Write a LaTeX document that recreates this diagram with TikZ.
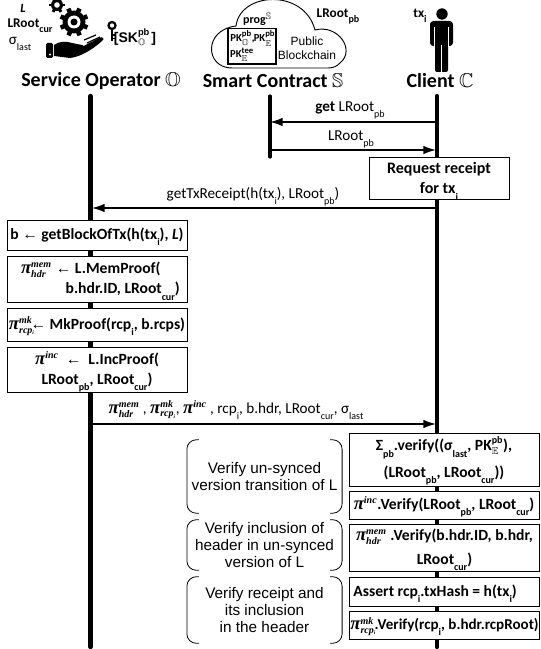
\documentclass[tikz,border=0pt]{standalone}
\usepackage{amsmath,amssymb}
\usepackage{fontspec}
\setmainfont{Carlito}
\newfontfamily\armfont{Liberation Sans}
\newfontfamily\prffont{Liberation Serif}
\usetikzlibrary{arrows.meta}
\newcommand{\low}[1]{\smash{\raisebox{-0.85ex}{\fontsize{7.5}{7.5}\selectfont #1}}}
\newcommand{\prftiny}[1]{\mbox{\prffont\bfseries\itshape\fontsize{7.5}{7.5}\selectfont #1}}
\newcommand{\prf}[2]{\smash{$\mbox{\prffont\bfseries\itshape\fontsize{14}{14}\selectfont π}^{\prftiny{#1}}_{\prftiny{#2}}$}}
\newcommand{\rcpi}{rcp\raisebox{-0.3ex}{\fontsize{4}{4}\selectfont i}}
\newcommand{\bbb}[1]{$\mathbb{#1}$}
\newcommand{\larr}{{\armfont\bfseries ←}}
\newcommand{\PK}[2]{PK$^{\text{\fontsize{6.5}{6.5}\selectfont\bfseries #1}}_{\text{\fontsize{6.5}{6.5}\selectfont$\mathbb{#2}$}}$}
\tikzset{
	actor/.style={font=\fontsize{15}{17}\selectfont\bfseries, inner sep=0pt},
	note/.style={font=\fontsize{10}{12}\selectfont\bfseries, inner sep=0pt, align=center},
	msg/.style={font=\fontsize{11.4}{13}\selectfont, inner sep=0pt},
	lifeline/.style={line width=3.2pt, line cap=round},
	msgline/.style={-{Latex[length=9.5pt,width=6.5pt]}, line width=1.2pt},
	opbox/.style={draw, fill=white, line width=0.7pt, align=center, inner sep=0pt, minimum width=135pt, font=\fontsize{11.7}{15}\selectfont\bfseries},
	verbox/.style={opbox, minimum width=142.5pt},
	verlabel/.style={inner sep=0pt, minimum width=116pt, align=center, font=\fontsize{11.5}{12.8}\selectfont\armfont},
	bracketline/.style={line width=0.6pt, rounded corners=7pt},
	pknote/.style={note, font=\fontsize{8}{9}\selectfont\bfseries}
}
\begin{document}
\begin{tikzpicture}[x=0.75pt,y=-0.75pt]
	\useasboundingbox (0,0) rectangle (540,649);

	% Lifelines
	\coordinate (optop) at (90.5,96);
	\coordinate (opbot) at (90.5,647);
	\coordinate (sctop) at (270,96);
	\coordinate (scbot) at (270,157);
	\coordinate (cltop) at (437,96);
	\coordinate (clbot) at (437,647);
	\draw[lifeline] (optop) -- (opbot);
	\draw[lifeline, line width=2.4pt] (sctop) -- (scbot);
	\draw[lifeline] (cltop) -- (clbot);

	% Actors
	\node[actor] (opname) at (101,81) {Service Operator \bbb{O}};
	\node[actor] (scname) at (273,81) {Smart Contract \bbb{S}};
	\node[actor] (clname) at (440,81) {Client \bbb{C}};

	% Gears
	\foreach \a in {0,45,...,315}
	\draw[line width=3.4pt] (74,22) -- ++(\a+22:14.5);
	\fill (74,22) circle (11.5);
	\fill[white] (74,22) circle (6.5);
	\fill (74,22) circle (3.5);
	\foreach \a in {0,60,...,300}
	\draw[line width=2.2pt] (57,5) -- ++(\a:8);
	\fill (57,5) circle (6);
	\fill[white] (57,5) circle (2.8);

	% Hand
	\fill[rounded corners=1pt] (46,43) rectangle (53,58);
	\fill[white] (50,54.5) circle (1.2);
	\fill (54,45) .. controls (60,41) and (66,41) .. (72,43) -- (82,45)
		.. controls (85,46) and (85,49) .. (82,50) -- (76,50)
		-- (99,38) .. controls (103,36) and (105,39) .. (102,41)
		.. controls (92,50) and (80,57) .. (70,58) -- (54,56) -- cycle;
	\draw[line width=0.9pt] (84,40) -- (96,35);
	\draw[line width=0.9pt] (87,43) -- (100,37);

	% Key
	\draw[line width=1.7pt] (112,25.5) circle (3.5);
	\draw[line width=1.8pt] (112,29) -- (112,41);
	\draw[line width=1.2pt] (112,35) -- (115.5,35);
	\draw[line width=1.2pt] (112,38.5) -- (115.5,38.5);

	% Operator state
	\node[note, font=\fontsize{9.5}{11}\selectfont\bfseries\itshape] (ledger) at (23,8) {L};
	\node[note] (lrootcur) at (30,23) {LRoot\low{cur}};
	\node[msg] (siglast) at (20,41) {σ\low{last}};
	\node[note, font=\fontsize{10.5}{12}\selectfont\bfseries\armfont] (skpb) at (135,38) {[SK$^{\text{\fontsize{7}{7}\selectfont\bfseries pb}}_{\text{\fontsize{7}{7}\selectfont$\mathbb{O}$}}$\kern1pt]};

	% Cloud
	\draw[line width=0.7pt] (232,68)
		.. controls (205,68) and (203,30) .. (236,26)
		.. controls (240,-8) and (304,-12) .. (315,30)
		.. controls (338,24) and (356,50) .. (340,63)
		.. controls (337,66) and (334,68) .. (328,68) -- cycle;
	\node[draw, line width=0.8pt, minimum width=36pt, minimum height=26.3pt, inner sep=0pt] (pkbox) at (252,46.5) {};
	\node[pknote] (pkop) at (242.5,38.5) {\PK{pb}{O},};
	\node[pknote] (pken) at (264.5,38.5) {\PK{pb}{E}};
	\node[pknote] (pktee) at (242,55) {\PK{tee}{E}};
	\node[pknote, font=\fontsize{9}{9}\selectfont\bfseries] (prog) at (257,19.5) {prog{\fontsize{7}{7}\selectfont\raisebox{0.9ex}{$\mathbb{S}$}}};
	\node[inner sep=0pt, align=center, font=\fontsize{9}{10.5}\selectfont\armfont] (pubchain) at (307,48.5) {Public\\Blockchain};
	\node[note] (lrootpb) at (338,13) {LRoot\low{pb}};

	% Client
	\node[note] (txi) at (420,13) {tx\low{i}};
	\fill (442,14) circle (5.7);
	\fill[rounded corners=2.5pt] (430,21) rectangle (453,46);
	\fill[rounded corners=1.5pt] (435,40) rectangle (448,72);
	\draw[white, line width=0.7pt] (434.5,27) -- (434.5,47);
	\draw[white, line width=0.7pt] (448.5,27) -- (448.5,47);
	\draw[white, line width=0.7pt] (441.5,45) -- (441.5,72);

	% Sync with the contract
	\coordinate (getR) at (437,122);
	\coordinate (getL) at (270,122);
	\coordinate (rootL) at (270,150);
	\coordinate (rootR) at (436,150);
	\draw[msgline] (getR) -- (getL);
	\draw[msgline] (rootL) -- (rootR);
	\node[msg] (getlabel) at (350,108) {\textbf{get} LRoot\low{pb}};
	\node[msg] (rootlabel) at (351,136) {LRoot\low{pb}};

	% Request
	\node[opbox, minimum width=105pt, minimum height=31.5pt, font=\fontsize{12}{15}\selectfont\bfseries] (request) at (439,178) {Request receipt\\for tx\low{i}};
	\coordinate (reqR) at (437,208);
	\coordinate (reqL) at (92,208);
	\draw[msgline] (reqR) -- (reqL);
	\node[msg] (reqlabel) at (253,194) {getTxReceipt(h(tx\low{i}), LRoot\low{pb})};

	% Operator steps
	\node[opbox, minimum height=22.5pt] (blockbox) at (97,235) {b \larr{} getBlockOfTx(h(tx\low{i}), \textit{L})};
	\node[opbox, minimum height=34.5pt] (membox) at (97,279) {\hspace*{-0.8em}\prf{mem}{hdr}\kern3pt\larr{} L.MemProof(\\\hspace*{3.3em}b.hdr.ID, LRoot\low{cur})};
	\node[opbox, minimum height=24.7pt] (mkbox) at (97,324.5) {\prf{mk}{\rcpi}\kern-3pt\larr{} MkProof(rcp\low{i}, b.rcps)};
	\node[opbox, minimum height=33.7pt] (incbox) at (97,369.5) {\prf{inc}{}\ \ \larr{}\ \ L.IncProof(\\LRoot\low{pb}, LRoot\low{cur})};

	% Proof message
	\coordinate (prfL) at (92,424);
	\coordinate (prfR) at (436,424);
	\draw[msgline] (prfL) -- (prfR);
	\node[msg] (prflabel) at (236,409) {\prf{mem}{hdr} , \prf{mk}{\rcpi}, \prf{inc}{} , rcp\low{i}, b.hdr, LRoot\low{cur}, σ\low{last}};

	% Client checks
	\node[verbox, minimum height=39.7pt] (sigbox) at (444,459.5) {Σ\low{pb}.verify((σ\low{last}, \smash{PK$^{\text{\fontsize{7.5}{7.5}\selectfont pb}}_{\text{\fontsize{7.5}{7.5}\selectfont$\mathbb{E}$}}$}),\\[5pt](LRoot\low{pb}, LRoot\low{cur}))};
	\node[verbox, minimum height=21pt] (incver) at (444,505) {\prf{inc}{}.Verify(LRoot\low{pb}, LRoot\low{cur})};
	\node[verbox, minimum height=35.2pt] (memver) at (444.5,547.5) {\prf{mem}{hdr} .Verify(b.hdr.ID, b.hdr,\\[3pt]LRoot\low{cur})};
	\node[verbox, minimum height=21.7pt] (assertbox) at (444.5,591.5) {\hspace*{-1.2em}Assert rcp\low{i}.txHash = h(tx\low{i})};
	\node[verbox, minimum height=21pt, font=\fontsize{11.3}{15}\selectfont\bfseries] (mkver) at (444.5,625) {\prf{mk}{\rcpi}\kern-1pt.Verify(rcp\low{i}, b.hdr.rcpRoot)};

	% Check groups
	\node[verlabel, minimum height=54.7pt] (verA) at (264.5,476.5) {Verify un-synced\\version transition of L};
	\node[verlabel, minimum height=37.5pt] (verB) at (264.5,545) {Verify inclusion of\\header in un-synced\\version of L};
	\node[verlabel, minimum height=49.5pt] (verC) at (264.5,610) {Verify receipt and\\its inclusion\\in the header};
	\foreach \b in {verA,verB,verC} {
		\draw[bracketline] (\b.north west) ++(12,0) -- ++(-12,0) -- (\b.south west) -- ++(12,0);
		\draw[bracketline] (\b.north east) ++(-12,0) -- ++(12,0) -- (\b.south east) -- ++(-12,0);
	}
\end{tikzpicture}
\end{document}
